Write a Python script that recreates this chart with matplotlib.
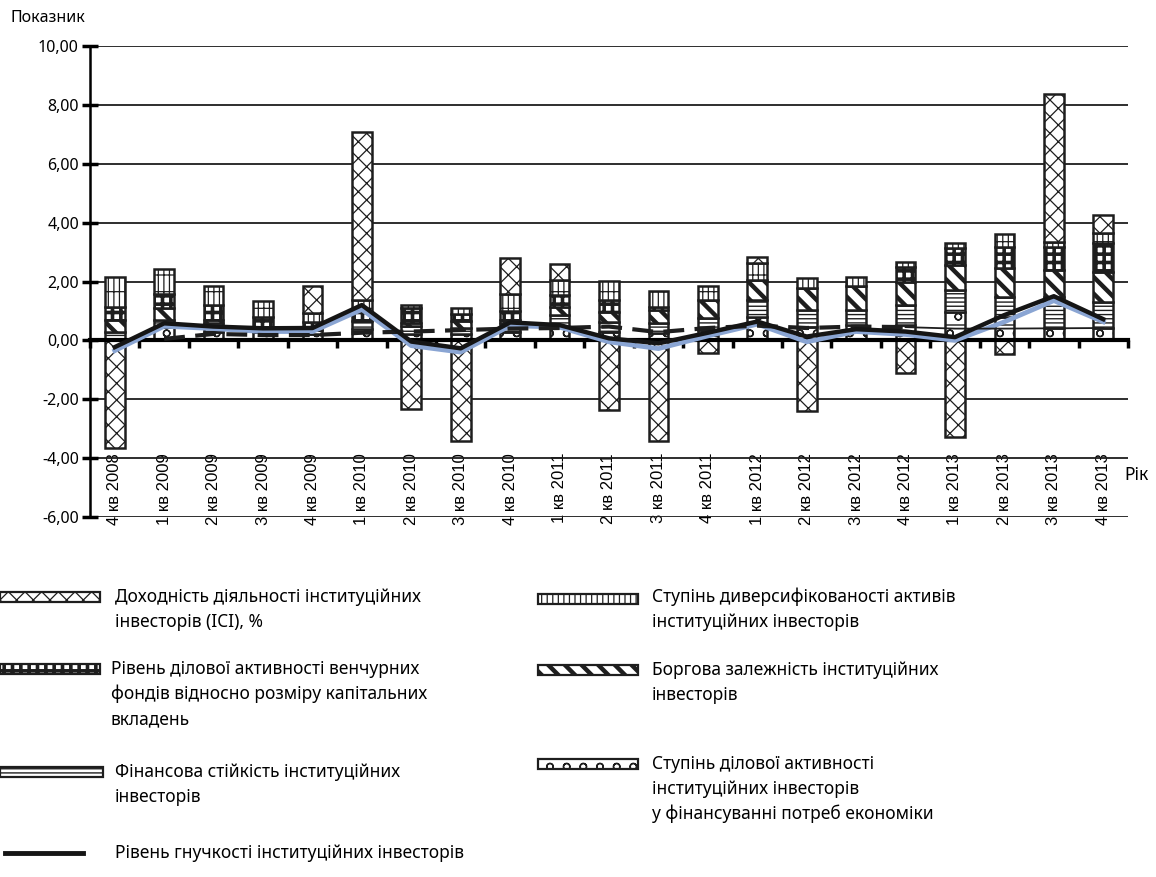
import matplotlib

matplotlib.use("Agg")
import matplotlib.pyplot as plt  # noqa: E402
import numpy as np  # noqa: E402
from matplotlib.lines import Line2D  # noqa: E402
from matplotlib.patches import Rectangle  # noqa: E402

plt.rcParams["font.family"] = ["Noto Sans", "DejaVu Sans"]

quarters = ["4 кв 2008", "1 кв 2009", "2 кв 2009", "3 кв 2009", "4 кв 2009",
            "1 кв 2010", "2 кв 2010", "3 кв 2010", "4 кв 2010", "1 кв 2011",
            "2 кв 2011", "3 кв 2011", "4 кв 2011", "1 кв 2012", "2 кв 2012",
            "3 кв 2012", "4 кв 2012", "1 кв 2013", "2 кв 2013", "3 кв 2013",
            "4 кв 2013"]

# stacked components, bottom to top
business = [0.00, 0.44, 0.29, 0.27, 0.20, 0.37, 0.20, 0.21, 0.30, 0.46, 0.30,
            0.25, 0.35, 0.81, 0.46, 0.52, 0.52, 0.97, 0.81, 0.41, 0.41]
stability = [0.30, 0.25, 0.30, 0.20, 0.14, 0.30, 0.30, 0.20, 0.29, 0.40, 0.33,
             0.34, 0.40, 0.56, 0.57, 0.51, 0.68, 0.74, 0.67, 1.07, 0.90]
debt = [0.39, 0.41, 0.10, 0.00, 0.10, 0.00, 0.10, 0.25, 0.10, 0.28, 0.34,
        0.45, 0.62, 0.68, 0.74, 0.82, 0.79, 0.85, 0.97, 0.91, 1.02]
venture = [0.45, 0.47, 0.51, 0.34, 0.20, 0.30, 0.50, 0.25, 0.32, 0.40, 0.40,
           0.10, 0.00, 0.00, 0.00, 0.00, 0.51, 0.57, 0.73, 0.79, 0.97]
diversif = [1.02, 0.85, 0.65, 0.54, 0.28, 0.40, 0.10, 0.20, 0.57, 0.51, 0.66,
            0.55, 0.48, 0.57, 0.34, 0.31, 0.17, 0.19, 0.42, 0.17, 0.34]
ici = [-3.66, 0.00, 0.00, 0.00, 0.94, 5.70, -2.33, -3.42, 1.23, 0.53, -2.36,
       -3.42, -0.42, 0.22, -2.39, 0.00, -1.12, -3.27, -0.47, 5.02, 0.61]

# lines
flexibility = [-0.23, 0.58, 0.47, 0.41, 0.42, 1.20, -0.04, -0.27, 0.61, 0.52,
               0.07, -0.10, 0.26, 0.64, 0.13, 0.38, 0.30, 0.11, 0.86, 1.50, 0.72]
flex_blue = [-0.35, 0.48, 0.40, 0.30, 0.30, 1.05, -0.18, -0.40, 0.50, 0.45,
             -0.05, -0.28, 0.15, 0.55, -0.05, 0.30, 0.20, 0.00, 0.63, 1.35, 0.63]
nan = np.nan
dashed_lvl = [nan, 0.05, 0.22, 0.18, 0.18, 0.26, 0.30, 0.35, 0.40, 0.42, 0.47,
              0.28, 0.42, 0.50, 0.42, 0.47, 0.45, nan, nan, nan, nan]
thin_lvl = [nan] * 16 + [0.45, 0.40, 0.40, 0.41, 0.42]

EDGE = "#1e1e1e"
STACK = [(business, "-o", 1.0), (stability, "----", 1.0), (debt, "\\\\", 3.2),
         (venture, "++", 2.6), (diversif, "|||-", 0.9)]
ICI_HATCH = ("xx", 0.9)

W, H = 1156, 877


def set_hlw(patches, lw):
    for p in patches:
        if hasattr(p, "set_hatch_linewidth"):
            p.set_hatch_linewidth(lw)


def main() -> None:
    fig = plt.figure(figsize=(W / 100, H / 100), dpi=100)
    ax = fig.add_axes([90 / W, 1 - 517 / H, (1128 - 90) / W, (517 - 46) / H])
    x = np.arange(len(quarters))
    bw = 0.4

    base = np.zeros(len(x))
    for vals, hatch, hlw in STACK:
        vals = np.asarray(vals)
        with plt.rc_context({"hatch.linewidth": hlw}):
            bars = ax.bar(x, vals, bw, bottom=base, facecolor="white",
                          edgecolor=EDGE, hatch=hatch, linewidth=1.8, zorder=2)
        set_hlw(bars, hlw)
        base = base + vals
    ici_a = np.asarray(ici)
    with plt.rc_context({"hatch.linewidth": ICI_HATCH[1]}):
        bars = ax.bar(x, ici_a, bw, bottom=np.where(ici_a > 0, base, 0),
                      facecolor="white", edgecolor=EDGE, hatch=ICI_HATCH[0],
                      linewidth=1.8, zorder=2)
    set_hlw(bars, ICI_HATCH[1])

    ax.plot(x, flex_blue, color="#8aa5d3", lw=3.4, zorder=3)
    ax.plot(x, dashed_lvl, color=EDGE, lw=3.0, dashes=(5, 2.5), zorder=3)
    ax.plot(x, thin_lvl, color=EDGE, lw=1.3, zorder=3)
    ax.plot(x, flexibility, color="#151515", lw=3.2, zorder=4)

    ax.set_xlim(-0.5, len(x) - 0.5)
    ax.set_ylim(-6, 10)
    yt = np.arange(-6, 11, 2)
    ax.set_yticks(yt, [f"{v:.2f}".replace(".", ",") for v in yt])
    ax.grid(axis="y", color=EDGE, lw=1.3)
    ax.set_axisbelow(True)
    for s in ("top", "right"):
        ax.spines[s].set_visible(False)
    ax.spines["left"].set_linewidth(1.8)
    ax.spines["bottom"].set_position(("data", 0))
    ax.spines["bottom"].set_linewidth(3)
    ax.spines["bottom"].set_zorder(2.5)
    ax.tick_params(axis="y", direction="inout", length=12, width=2.5,
                   labelsize=11.5, pad=2)

    ax.set_xticks(x, quarters, rotation=90, fontsize=12, family="Liberation Sans")
    ax.set_xticks(np.arange(-0.5, len(x), 1), minor=True)
    ax.tick_params(axis="x", which="major", length=0, pad=81)
    ax.tick_params(axis="x", which="minor", direction="out", length=6, width=2.5)

    fig.text(10 / W, 1 - 18 / H, "Показник", fontsize=11.5, va="center")
    fig.text(1124 / W, 1 - 475 / H, "Рік", fontsize=12.5, va="center")

    # legend
    def swatch(px, py, hatch, hlw, w=100, h=10):
        with plt.rc_context({"hatch.linewidth": hlw}):
            r = Rectangle((px / W, 1 - (py + h / 2) / H), w / W, h / H,
                          transform=fig.transFigure, facecolor="white",
                          edgecolor=EDGE, hatch=hatch, linewidth=1.6)
        set_hlw([r], hlw)
        fig.add_artist(r)

    def label(px, py, txt, step=25):
        for k, line in enumerate(txt.split("\n")):
            fig.text(px / W, 1 - (py + k * step) / H, line, fontsize=12.5,
                     va="center")

    swatch(0, 597, ICI_HATCH[0], ICI_HATCH[1])
    label(115, 597, "Доходність діяльності інституційних\nінвесторів (ICI), %")
    swatch(0, 669, STACK[3][1], STACK[3][2])
    label(111, 669, "Рівень ділової активності венчурних\n"
                    "фондів відносно розміру капітальних\nвкладень")
    swatch(0, 772, STACK[1][1], STACK[1][2], w=103)
    label(115, 772, "Фінансова стійкість інституційних\nінвесторів")
    fig.add_artist(Line2D([5 / W, 83 / W], [1 - 853 / H] * 2,
                          transform=fig.transFigure, color="#151515", lw=3.5))
    label(115, 853, "Рівень гнучкості інституційних інвесторів")

    swatch(538, 599, STACK[4][1], STACK[4][2])
    label(652, 597, "Ступінь диверсифікованості активів\nінституційних інвесторів")
    swatch(538, 670, STACK[2][1], STACK[2][2])
    label(652, 670, "Боргова залежність інституційних\nінвесторів")
    swatch(538, 764, STACK[0][1], STACK[0][2])
    label(652, 764, "Ступінь ділової активності\nінституційних інвесторів\n"
                    "у фінансуванні потреб економіки")

    fig.savefig("out.png", dpi=100)


if __name__ == "__main__":
    main()
